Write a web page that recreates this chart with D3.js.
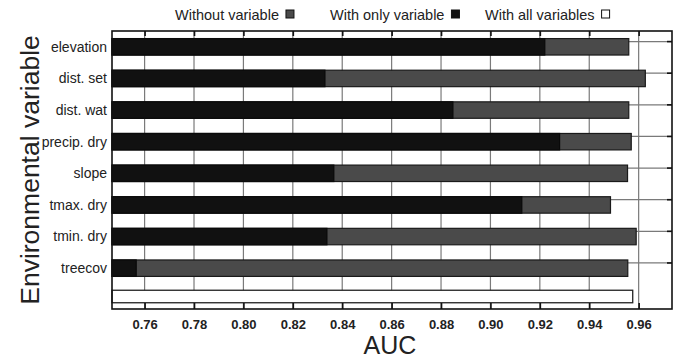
<!DOCTYPE html>
<html>
<head>
<meta charset="utf-8">
<script src="https://cdn.jsdelivr.net/npm/d3@7"></script>
<style>
  body { margin: 0; background: #fff; }
  svg { font-family: "Liberation Sans", Arial, sans-serif; }
</style>
</head>
<body>
<svg></svg>
<script>
const size = {w: 673, h: 361};
const box = {l: 112, r: 672, t: 31, b: 309};

// values
const variables = ['elevation', 'dist. set', 'dist. wat', 'precip. dry', 'slope', 'tmax. dry', 'tmin. dry', 'treecov'];
const withoutVar = [0.956, 0.9627, 0.956, 0.957, 0.9555, 0.9486, 0.959, 0.9556];
const onlyVar = [0.922, 0.833, 0.8848, 0.928, 0.8366, 0.9127, 0.8338, 0.7566];
const allVars = 0.9576;
const xTicks = [0.76, 0.78, 0.80, 0.82, 0.84, 0.86, 0.88, 0.90, 0.92, 0.94, 0.96];
const legendItems = [
    {label: 'Without variable', fill: '#4a4a4a'},
    {label: 'With only variable', fill: '#111'},
    {label: 'With all variables', fill: '#fff'}
];

const svg = d3.select('svg')
    .attr('width', size.w)
    .attr('height', size.h);

const x = d3.scaleLinear()
    .domain([0.7468, 0.9735])
    .range([box.l, box.r]);

// 8 variable rows, then the reference bar below them
const y = d3.scaleBand()
    .domain(variables)
    .range([box.t, 284])
    .paddingInner(0.48)
    .paddingOuter(0.24);
const yAll = d3.scaleBand()
    .domain(['all'])
    .range([284, box.b])
    .paddingInner(0.5)
    .paddingOuter(0.18);

const plotG = svg.append('g');

// vertical grid lines
plotG.selectAll('line.vgrid')
    .data(xTicks)
    .join('line')
    .attr('x1', d => x(d)).attr('x2', d => x(d))
    .attr('y1', box.t).attr('y2', box.b)
    .attr('stroke', '#7a7a7a')
    .attr('stroke-width', 1.2);

// horizontal grid lines (sit near top of each bar)
plotG.selectAll('line.hgrid')
    .data(variables)
    .join('line')
    .attr('x1', box.l).attr('x2', box.r)
    .attr('y1', d => y(d) + 3).attr('y2', d => y(d) + 3)
    .attr('stroke', '#7a7a7a')
    .attr('stroke-width', 1.2);

// grey bars: AUC without variable
plotG.selectAll('rect.without')
    .data(variables)
    .join('rect')
    .attr('x', box.l)
    .attr('y', d => y(d))
    .attr('width', (d, i) => x(withoutVar[i]) - box.l)
    .attr('height', y.bandwidth())
    .attr('fill', '#4a4a4a')
    .attr('stroke', '#1a1a1a')
    .attr('stroke-width', 1.2);

// black bars: AUC with only variable
plotG.selectAll('rect.only')
    .data(variables)
    .join('rect')
    .attr('x', box.l)
    .attr('y', d => y(d))
    .attr('width', (d, i) => x(onlyVar[i]) - box.l)
    .attr('height', y.bandwidth())
    .attr('fill', '#111')
    .attr('stroke', '#0a0a0a')
    .attr('stroke-width', 1.2);

// white bar: all variables
plotG.append('rect')
    .attr('x', box.l)
    .attr('y', yAll('all'))
    .attr('width', x(allVars) - box.l)
    .attr('height', yAll.bandwidth())
    .attr('fill', '#fff')
    .attr('stroke', '#222')
    .attr('stroke-width', 1.3);

// frame
svg.append('rect')
    .attr('x', box.l).attr('y', box.t)
    .attr('width', box.r - box.l).attr('height', box.b - box.t)
    .attr('fill', 'none')
    .attr('stroke', '#111')
    .attr('stroke-width', 1.6);

// bottom axis, ticks pointing inward
const xAxis = svg.append('g')
    .attr('transform', `translate(0,${box.b})`)
    .call(d3.axisBottom(x).tickValues(xTicks).tickFormat(d3.format('.2f')).tickSizeInner(-6).tickSizeOuter(0).tickPadding(11));
xAxis.select('.domain').remove();
xAxis.selectAll('line').attr('stroke', '#111').attr('stroke-width', 1.6);
xAxis.selectAll('text')
    .attr('font-size', 13)
    .attr('font-weight', 'bold')
    .attr('fill', '#222');

// top ticks
const xTop = svg.append('g')
    .attr('transform', `translate(0,${box.t})`)
    .call(d3.axisTop(x).tickValues(xTicks).tickFormat('').tickSizeInner(-5).tickSizeOuter(0));
xTop.select('.domain').remove();
xTop.selectAll('line').attr('stroke', '#111').attr('stroke-width', 1.6);

// right ticks at the grid lines
svg.selectAll('line.rtick')
    .data(variables)
    .join('line')
    .attr('x1', box.r - 5).attr('x2', box.r)
    .attr('y1', d => y(d) + 3).attr('y2', d => y(d) + 3)
    .attr('stroke', '#111')
    .attr('stroke-width', 1.6);

// category labels
svg.selectAll('text.cat')
    .data(variables)
    .join('text')
    .attr('x', box.l - 5)
    .attr('y', d => y(d) + y.bandwidth() / 2)
    .attr('dy', '0.35em')
    .attr('text-anchor', 'end')
    .attr('font-size', 14)
    .attr('fill', '#222')
    .text(d => d);

// axis titles
svg.append('text')
    .attr('x', (box.l + box.r) / 2 - 2)
    .attr('y', 354)
    .attr('text-anchor', 'middle')
    .attr('font-size', 25)
    .attr('fill', '#222')
    .text('AUC');

svg.append('text')
    .attr('transform', `translate(39,${(box.t + box.b) / 2}) rotate(-90)`)
    .attr('text-anchor', 'middle')
    .attr('font-size', 26.5)
    .attr('fill', '#222')
    .text('Environmental variable');

// legend across the top
const legendX = [175, 330, 485];
const legendG = svg.append('g');
legendItems.forEach((item, i) => {
    const t = legendG.append('text')
        .attr('x', legendX[i])
        .attr('y', 20)
        .attr('font-size', 14.5)
        .attr('fill', '#222')
        .text(item.label);
    const w = t.node().getComputedTextLength();
    legendG.append('rect')
        .attr('x', legendX[i] + w + 7)
        .attr('y', 10)
        .attr('width', 8).attr('height', 8)
        .attr('fill', item.fill)
        .attr('stroke', '#111')
        .attr('stroke-width', 1);
});
</script>
</body>
</html>
